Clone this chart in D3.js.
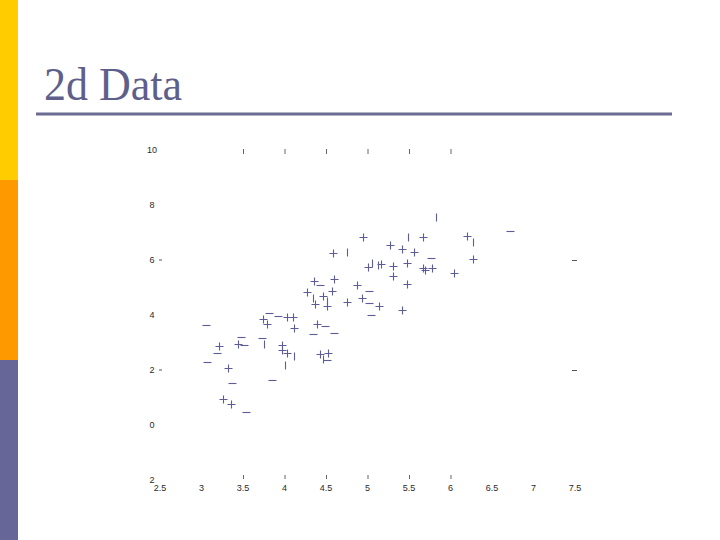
<!DOCTYPE html>
<html>
<head>
<meta charset="utf-8">
<script src="https://cdn.jsdelivr.net/npm/d3@7"></script>
<style>
  html, body { margin: 0; padding: 0; background: #ffffff; }
  svg { display: block; }
</style>
</head>
<body>
<svg id="chart" width="720" height="540"></svg>
<script>
// ---- data ----
const title = "2d Data";

const xTicks = [2.5, 3, 3.5, 4, 4.5, 5, 5.5, 6, 6.5, 7, 7.5];
const xTickLabels = ["2.5", "3", "3.5", "4", "4.5", "5", "5.5", "6", "6.5", "7", "7.5"];
const yTicks = [10, 8, 6, 4, 2, 0, -2];
const yTickLabels = ["10", "8", "6", "4", "2", "0", "2"];
const sideDashTicks = [6, 2];
const frameTicksX = [3.5, 4, 4.5, 5, 5.5, 6];

// class "+" points
const plusX = [4.58, 4.95, 5.27, 5.42, 5.56, 5.67, 6.20, 6.27, 6.04, 5.01, 5.16, 5.31, 5.48, 5.67, 5.78, 5.31, 5.48,
               4.36, 4.60, 4.27, 4.46, 4.57, 4.87, 4.93, 4.37, 4.51, 4.75, 5.14, 5.42, 3.74, 3.79, 4.03, 4.10, 4.11,
               4.39, 3.21, 3.44, 3.97, 3.97, 4.03, 4.43, 4.52, 3.32, 3.26, 3.36, 5.69];
const plusY = [6.25, 6.84, 6.55, 6.40, 6.29, 6.84, 6.87, 6.04, 5.53, 5.75, 5.85, 5.78, 5.89, 5.71, 5.71, 5.42, 5.13,
               5.24, 5.31, 4.84, 4.69, 4.87, 5.09, 4.62, 4.40, 4.33, 4.47, 4.33, 4.18, 3.85, 3.67, 3.93, 3.93, 3.53,
               3.67, 2.87, 2.95, 2.91, 2.73, 2.62, 2.58, 2.62, 2.07, 0.95, 0.76, 5.64];

// class "-" points
const minusX = [6.72, 5.77, 4.43, 5.02, 5.02, 5.04, 4.49, 4.34, 4.60, 3.81, 3.92, 3.05, 3.48, 3.19, 3.51, 3.73,
                4.51, 3.07, 3.37, 3.85, 3.54];
const minusY = [7.05, 6.07, 5.09, 4.87, 4.44, 4.00, 3.60, 3.31, 3.35, 4.07, 3.96, 3.64, 3.20, 2.62, 2.91, 3.16,
                2.36, 2.29, 1.53, 1.64, 0.47];

// partially printed markers (vertical strokes only)
const barX = [5.83, 5.49, 6.27, 4.75, 5.05, 5.13, 4.34, 4.51, 3.75, 4.11, 4.01, 4.46];
const barY = [7.56, 6.84, 6.65, 6.29, 5.89, 5.82, 4.62, 4.51, 2.95, 2.51, 2.18, 2.40];

// ---- drawing ----
const svg = d3.select("#chart");
const markColor = "#5c5c98";
const labelColor = "#2a2a2a";

// left decorative band
const bands = [
  { y0: 0, y1: 180, c: "#ffcc00" },
  { y0: 180, y1: 360, c: "#ff9900" },
  { y0: 360, y1: 540, c: "#666699" }
];
svg.selectAll("rect.band").data(bands).join("rect")
  .attr("class", "band")
  .attr("x", 0).attr("width", 18)
  .attr("y", d => d.y0).attr("height", d => d.y1 - d.y0)
  .attr("fill", d => d.c);

// title
svg.append("text")
  .attr("x", 44).attr("y", 100)
  .attr("font-family", "'Liberation Serif', 'Times New Roman', serif")
  .attr("font-size", 46)
  .attr("textLength", 138)
  .attr("lengthAdjust", "spacingAndGlyphs")
  .attr("fill", "#5f5f8c")
  .text(title);

svg.append("line")
  .attr("x1", 36).attr("x2", 672)
  .attr("y1", 114).attr("y2", 114)
  .attr("stroke", "#6b6b94").attr("stroke-width", 3);

// scales
const x = d3.scaleLinear().domain([2.5, 7.5]).range([160, 575]);
const y = d3.scaleLinear().domain([-2, 10]).range([480, 150]);

const fontSans = "'Liberation Sans', Arial, sans-serif";

// y labels
svg.selectAll("text.ylab").data(yTicks).join("text")
  .attr("class", "ylab")
  .attr("x", 152)
  .attr("y", d => y(d) + 3)
  .attr("text-anchor", "middle")
  .attr("font-family", fontSans)
  .attr("font-size", 9)
  .attr("fill", labelColor)
  .text((d, i) => yTickLabels[i]);

// left dash ticks
svg.selectAll("line.ldash").data(sideDashTicks).join("line")
  .attr("class", "ldash")
  .attr("x1", 159).attr("x2", 162)
  .attr("y1", d => y(d)).attr("y2", d => y(d))
  .attr("stroke", "#555").attr("stroke-width", 1);

// right dash ticks
svg.selectAll("line.rdash").data(sideDashTicks).join("line")
  .attr("class", "rdash")
  .attr("x1", x(7.5) - 3).attr("x2", x(7.5) + 2)
  .attr("y1", d => y(d) + 0.5).attr("y2", d => y(d) + 0.5)
  .attr("stroke", "#555").attr("stroke-width", 1);

// top ticks
svg.selectAll("line.ttick").data(frameTicksX).join("line")
  .attr("class", "ttick")
  .attr("x1", d => x(d) + 0.5).attr("x2", d => x(d) + 0.5)
  .attr("y1", y(10) - 1).attr("y2", y(10) + 4)
  .attr("stroke", "#666").attr("stroke-width", 1);

// bottom ticks
svg.selectAll("line.btick").data(frameTicksX).join("line")
  .attr("class", "btick")
  .attr("x1", d => x(d) + 0.5).attr("x2", d => x(d) + 0.5)
  .attr("y1", y(-2) - 5).attr("y2", y(-2) - 1)
  .attr("stroke", "#666").attr("stroke-width", 1);

// x labels
svg.selectAll("text.xlab").data(xTicks).join("text")
  .attr("class", "xlab")
  .attr("x", d => x(d))
  .attr("y", 491)
  .attr("text-anchor", "middle")
  .attr("font-family", fontSans)
  .attr("font-size", 9)
  .attr("fill", labelColor)
  .text((d, i) => xTickLabels[i]);

// markers
const plusPts = plusX.map((v, i) => [v, plusY[i]]);
const minusPts = minusX.map((v, i) => [v, minusY[i]]);
const barPts = barX.map((v, i) => [v, barY[i]]);

const s = 4;
svg.selectAll("path.plus").data(plusPts).join("path")
  .attr("class", "plus")
  .attr("d", d => {
    const cx = Math.round(x(d[0])) + 0.5, cy = Math.round(y(d[1])) + 0.5;
    return `M${cx - s},${cy}H${cx + s}M${cx},${cy - s}V${cy + s}`;
  })
  .attr("stroke", markColor).attr("stroke-width", 1.1).attr("fill", "none");

svg.selectAll("path.minus").data(minusPts).join("path")
  .attr("class", "minus")
  .attr("d", d => {
    const cx = Math.round(x(d[0])) + 0.5, cy = Math.round(y(d[1])) + 0.5;
    return `M${cx - s},${cy}H${cx + s}`;
  })
  .attr("stroke", markColor).attr("stroke-width", 1.1).attr("fill", "none");

svg.selectAll("path.bar").data(barPts).join("path")
  .attr("class", "bar")
  .attr("d", d => {
    const cx = Math.round(x(d[0])) + 0.5, cy = Math.round(y(d[1])) + 0.5;
    return `M${cx},${cy - s}V${cy + s}`;
  })
  .attr("stroke", markColor).attr("stroke-width", 1.1).attr("fill", "none");
</script>
</body>
</html>
